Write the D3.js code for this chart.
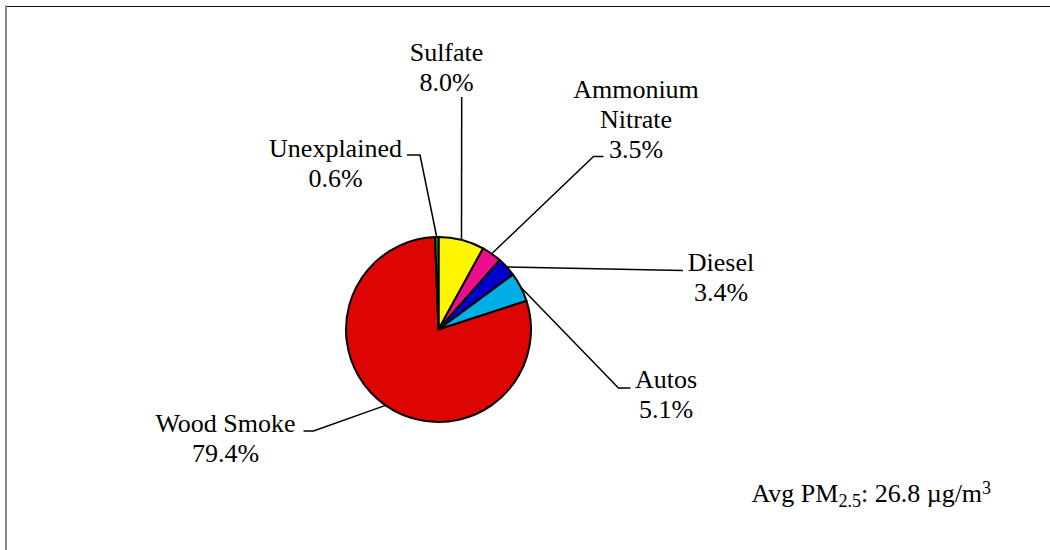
<!DOCTYPE html>
<html>
<head>
<meta charset="utf-8">
<script src="https://cdn.jsdelivr.net/npm/d3@7"></script>
<style>
  html, body { margin: 0; padding: 0; background: #fff; }
  svg { display: block; }
  text { font-family: "Liberation Serif", "Times New Roman", serif; fill: #000; }
</style>
</head>
<body>
<svg id="chart" width="1050" height="550"></svg>
<script>
// ---- data ----
const categories = ["Sulfate", "Ammonium Nitrate", "Diesel", "Autos", "Wood Smoke", "Unexplained"];
const labelLines = [["Sulfate"], ["Ammonium", "Nitrate"], ["Diesel"], ["Autos"], ["Wood Smoke"], ["Unexplained"]];
const shares = [8.0, 3.5, 3.4, 5.1, 79.4, 0.6];
const colors = ["#FFF700", "#EE0E8C", "#0000CC", "#00AEE6", "#DD0404", "#1E9E1E"];
const avgLabel = { pre: "Avg PM", sub: "2.5", mid: ": 26.8 µg/m", sup: "3" };

// ---- layout ----
const W = 1050, H = 550;
const cx = 438.5, cy = 329.5, R = 92.5;
const fontSize = 26, lineH = 30;
// label layout: center x, baseline of last line (percent), leader start + elbow
const labelLayout = [
  { x: 446.5, yLast: 91,  lead: [[461.7, 97]] },                      // Sulfate
  { x: 636,   yLast: 158, lead: [[603.5, 156.5], [593.5, 156.5]] },    // Ammonium Nitrate
  { x: 721,   yLast: 301, lead: [[683, 270.5]] },                      // Diesel
  { x: 666,   yLast: 418, lead: [[630.5, 388], [618.5, 388]] },        // Autos
  { x: 225.5, yLast: 461.5, lead: [[303.5, 431], [313.5, 431]] },      // Wood Smoke
  { x: 335.5, yLast: 186.5, lead: [[407, 155], [420, 155]] }           // Unexplained
];

const svg = d3.select("#chart");

// frame
svg.append("line").attr("x1", 6).attr("y1", 6.5).attr("x2", W).attr("y2", 6.5)
  .attr("stroke", "#111").attr("stroke-width", 1.2);
svg.append("line").attr("x1", 6).attr("y1", 5.5).attr("x2", 6).attr("y2", H)
  .attr("stroke", "#888").attr("stroke-width", 2);

const data = categories.map((c, i) => ({ name: c, value: shares[i], color: colors[i], lines: labelLines[i], layout: labelLayout[i] }));

const pie = d3.pie().value(d => d.value).sort(null).startAngle(0).endAngle(2 * Math.PI);
const arcs = pie(data);
const arc = d3.arc().innerRadius(0).outerRadius(R);

const g = svg.append("g").attr("transform", `translate(${cx},${cy})`);
g.selectAll("path.slice").data(arcs).join("path")
  .attr("class", "slice")
  .attr("d", arc)
  .attr("fill", d => d.data.color)
  .attr("stroke", "#000")
  .attr("stroke-width", 2)
  .attr("stroke-linejoin", "round");

// leader lines
const line = d3.line();
arcs.forEach(a => {
  const mid = (a.startAngle + a.endAngle) / 2;
  const edge = [cx + R * Math.sin(mid), cy - R * Math.cos(mid)];
  const pts = a.data.layout.lead.concat([edge]);
  svg.append("path").attr("d", line(pts))
    .attr("fill", "none").attr("stroke", "#000").attr("stroke-width", 1.5);
});

// labels
arcs.forEach(a => {
  const L = a.data.layout;
  const all = a.data.lines.concat([a.data.value.toFixed(1) + "%"]);
  const n = all.length;
  const t = svg.append("text").attr("text-anchor", "middle").attr("font-size", fontSize);
  all.forEach((s, k) => {
    t.append("tspan").attr("x", L.x).attr("y", L.yLast - (n - 1 - k) * lineH).text(s);
  });
});

// average annotation
const av = svg.append("text").attr("x", 751.5).attr("y", 502).attr("font-size", fontSize);
av.append("tspan").text(avgLabel.pre);
av.append("tspan").attr("font-size", 18).attr("dy", 5).text(avgLabel.sub);
av.append("tspan").attr("dy", -5).text(avgLabel.mid);
av.append("tspan").attr("font-size", 18).attr("dy", -8).text(avgLabel.sup);
</script>
</body>
</html>
